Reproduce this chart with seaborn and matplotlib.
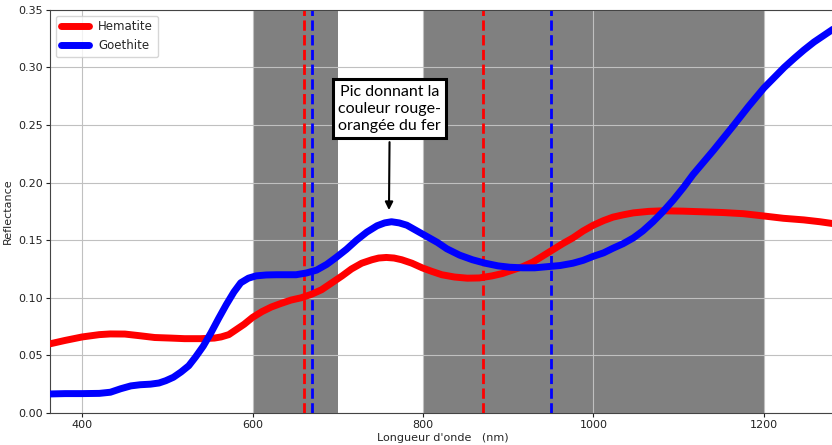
import matplotlib
matplotlib.use("Agg")
import matplotlib.pyplot as plt
import numpy as np
import pandas as pd
import seaborn as sns

# wavelength (nm) and reflectance
hem_wl = [362, 380, 400, 420, 433, 450, 468, 485, 504, 520, 539, 555, 563, 572,
          580, 590, 600, 611, 622, 633, 645, 657, 669, 681, 693, 705, 716, 728,
          740, 748, 757, 766, 775, 787, 799, 810, 822, 837, 852, 866, 881, 893,
          905, 917, 929, 940, 952, 964, 976, 988, 1000, 1012, 1023, 1035, 1047,
          1065, 1082, 1105, 1129, 1152, 1176, 1200, 1223, 1247, 1266, 1285]
hem_ref = [0.060, 0.063, 0.066, 0.068, 0.0686, 0.0685, 0.067, 0.0655, 0.065, 0.0645,
           0.0645, 0.065, 0.066, 0.068, 0.072, 0.077, 0.083, 0.088, 0.092, 0.095,
           0.098, 0.100, 0.103, 0.107, 0.113, 0.119, 0.125, 0.130, 0.133, 0.1345,
           0.135, 0.1345, 0.133, 0.130, 0.126, 0.123, 0.120, 0.118, 0.117, 0.1172,
           0.119, 0.121, 0.124, 0.127, 0.131, 0.136, 0.1415, 0.147, 0.152, 0.158,
           0.163, 0.167, 0.170, 0.172, 0.1737, 0.175, 0.1755, 0.1752, 0.1746, 0.174,
           0.173, 0.171, 0.169, 0.1676, 0.166, 0.164]

goe_wl = [362, 380, 400, 420, 433, 445, 457, 468, 480, 490, 498, 507, 516, 525,
          533, 542, 551, 560, 569, 578, 586, 595, 604, 616, 628, 640, 651, 663,
          675, 687, 698, 710, 722, 734, 746, 755, 763, 772, 781, 793, 805, 817,
          828, 843, 858, 873, 888, 902, 917, 931, 946, 961, 976, 988, 1000, 1012,
          1023, 1035, 1047, 1058, 1070, 1082, 1094, 1106, 1117, 1129, 1141, 1153,
          1165, 1182, 1200, 1212, 1224, 1236, 1247, 1259, 1271, 1285]
goe_ref = [0.0165, 0.0168, 0.0168, 0.017, 0.018, 0.021, 0.0235, 0.0245, 0.025, 0.026,
           0.028, 0.031, 0.0356, 0.041, 0.0486, 0.058, 0.0695, 0.082, 0.094, 0.105,
           0.113, 0.117, 0.119, 0.1198, 0.120, 0.120, 0.120, 0.1215, 0.124, 0.129,
           0.135, 0.142, 0.150, 0.157, 0.1625, 0.165, 0.166, 0.165, 0.163, 0.158,
           0.153, 0.148, 0.1425, 0.137, 0.133, 0.130, 0.1277, 0.1265, 0.126, 0.126,
           0.127, 0.128, 0.130, 0.1325, 0.136, 0.139, 0.143, 0.147, 0.152, 0.158,
           0.166, 0.175, 0.185, 0.196, 0.207, 0.2175, 0.228, 0.239, 0.250, 0.266,
           0.282, 0.291, 0.300, 0.308, 0.315, 0.322, 0.328, 0.335]

bands = [(600, 700), (800, 1200)]
hem_lines = [660, 870]
goe_lines = [670, 950]

df = pd.concat([
    pd.DataFrame({"wl": hem_wl, "ref": hem_ref, "mineral": "Hematite"}),
    pd.DataFrame({"wl": goe_wl, "ref": goe_ref, "mineral": "Goethite"}),
])

sns.set_style("ticks", {"axes.grid": True, "grid.color": "#c0c0c0",
                        "axes.edgecolor": "#444444"})
plt.rcParams['font.family'] = ['DejaVu Sans']

fig = plt.figure(figsize=(8.32, 4.45), dpi=100)
ax = fig.add_axes([0.060, 0.072, 0.945, 0.906])
ax.set_axisbelow('line')

for lo, hi in bands:
    ax.axvspan(lo, hi, color="#808080", lw=0, zorder=1)

sns.lineplot(data=df, x="wl", y="ref", hue="mineral", sort=False,
             palette={"Hematite": "red", "Goethite": "blue"},
             linewidth=5, ax=ax, zorder=3)

for x in hem_lines:
    ax.axvline(x, color="red", ls="--", lw=2, zorder=2)
for x in goe_lines:
    ax.axvline(x, color="blue", ls="--", lw=2, zorder=2)

ax.annotate("Pic donnant la\ncouleur rouge-\norangée du fer",
            xy=(760, 0.1737), xytext=(761, 0.264),
            ha="center", va="center", fontsize=11.5, color="black",
            family=["Lato", "DejaVu Sans"], linespacing=1.3,
            bbox=dict(boxstyle="square,pad=0.32", fc="white", ec="black", lw=2.2),
            arrowprops=dict(arrowstyle="-|>", color="black", lw=1.5),
            zorder=5)

ax.set_xlim(362, 1285)
ax.set_ylim(0, 0.35)
ax.set_xticks([400, 600, 800, 1000, 1200])
ax.tick_params(labelsize=8, length=3, pad=2, colors="#222222")
ax.set_xlabel("Longueur d'onde   (nm)", fontsize=8, labelpad=2)
ax.set_ylabel("Reflectance", fontsize=8, labelpad=4)

leg = ax.legend(loc="upper left", fontsize=8.5, handlelength=2.4)
for line in leg.get_lines():
    line.set_linewidth(5)

fig.savefig("out.png", dpi=100)
